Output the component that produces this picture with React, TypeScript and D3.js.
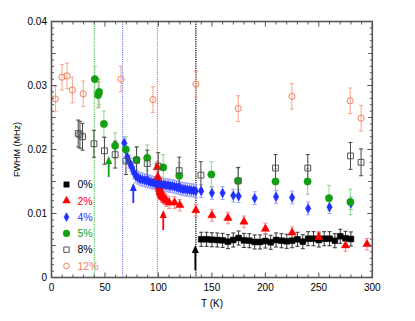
import React from 'react';
import * as d3 from 'd3';

// ---- data ----
const t0 = [140, 145, 150, 155, 160, 165, 170, 175, 180, 185, 190, 195, 200, 205, 210, 215, 220, 225, 230, 235, 240, 245, 250, 255, 260, 265, 270, 275, 280];
const w0 = [0.00597, 0.00597, 0.0059, 0.00586, 0.0058, 0.0056, 0.00586, 0.00617, 0.0058, 0.00575, 0.00555, 0.00555, 0.0057, 0.0055, 0.00586, 0.00575, 0.00566, 0.00575, 0.00597, 0.0056, 0.00606, 0.00606, 0.00586, 0.00606, 0.00606, 0.00575, 0.00644, 0.00612, 0.00602];

const t2 = [99, 99.4, 99.8, 100.2, 100.6, 101, 101.4, 101.8, 102.3, 102.8, 103.3, 104, 105, 106, 107.5, 110, 115, 120, 135, 150, 165, 180, 200, 225, 250, 275, 295];
const w2 = [0.0172, 0.0157, 0.015, 0.0146, 0.0142, 0.0138, 0.0135, 0.0133, 0.0131, 0.0129, 0.0127, 0.0126, 0.0125, 0.0123, 0.012, 0.0117, 0.0117, 0.0113, 0.0105, 0.0097, 0.0093, 0.0087, 0.0076, 0.007, 0.0063, 0.005, 0.0052];

const t4 = [68, 69.6, 71, 72.5, 74, 75.5, 77, 79, 81, 83, 85, 87, 89, 91, 93, 95, 97, 99, 101, 103, 105, 107, 109, 111, 113, 115, 117, 119, 121, 123, 125, 127, 129, 131, 133, 135, 140, 150, 160, 170, 175, 190, 210, 225, 240, 260, 280];
const w4 = [0.021, 0.0199, 0.0188, 0.0181, 0.0176, 0.0171, 0.0164, 0.0158, 0.0156, 0.0154, 0.0153, 0.0152, 0.0151, 0.015, 0.0149, 0.0148, 0.0147, 0.0146, 0.0146, 0.0145, 0.0145, 0.0144, 0.0144, 0.0143, 0.0143, 0.0142, 0.0141, 0.014, 0.0139, 0.0138, 0.0138, 0.0137, 0.0137, 0.0136, 0.0136, 0.0135, 0.0135, 0.0132, 0.0132, 0.0128, 0.0127, 0.0124, 0.0126, 0.0125, 0.0108, 0.011, 0.0116];

const t5 = [40.5, 43.5, 44.5, 49, 59.5, 69.5, 79.5, 89.5, 104.5, 119.5, 149.5, 174.5, 209.5, 239.5, 259.5, 279.5];
const w5 = [0.031, 0.0285, 0.029, 0.024, 0.0206, 0.02, 0.0184, 0.0187, 0.0172, 0.0159, 0.0161, 0.0151, 0.015, 0.015, 0.0124, 0.0118];

const t8 = [25, 26.6, 29, 39.7, 49.5, 59.5, 69.6, 79.6, 89.5, 99.8, 119.4, 139.7, 174.6, 209.5, 239.7, 279.6, 289.5];
const w8 = [0.0225, 0.0223, 0.022, 0.0209, 0.0198, 0.0192, 0.0182, 0.0183, 0.0178, 0.0174, 0.0167, 0.016, 0.0151, 0.0171, 0.0171, 0.019, 0.018];

const t12 = [3.6, 9.8, 14.5, 19.5, 29.7, 44.4, 65, 94.9, 135, 174.6, 224.8, 279.3, 289.5];
const w12 = [0.0279, 0.0313, 0.0315, 0.0293, 0.0287, 0.0286, 0.031, 0.0278, 0.0302, 0.0264, 0.0283, 0.0276, 0.0249];

const labels = ['0%', '2%', '4%', '5%', '8%', '12%'];
const errors = [0.0011, 0.0009, 0.001, 0.002, 0.0021, 0.002];

const transitions = [40, 66.5, 99, 135];
const arrowT = [53.5, 76.5, 104.5, 134.5];

const xTicks = [0, 50, 100, 150, 200, 250, 300];
const yTicks = [0, 0.01, 0.02, 0.03, 0.04];

// ---- layout ----
const W = 415, H = 321;
const x = d3.scaleLinear().domain([0, 300]).range([51.5, 372.3]);
const y = d3.scaleLinear().domain([0, 0.04]).range([277.5, 21.5]);
const font = '"Liberation Sans", Arial, sans-serif';

// draw order: 12%, 0%, 2%, 4%, 5%, 8%
const series = [
  { k: 5, t: t12, w: w12, shape: d3.symbolCircle, size: 30, fill: 'none', stroke: '#f4825c', bar: '#f7a385' },
  { k: 0, t: t0, w: w0, shape: d3.symbolSquare, size: 34, fill: '#000', stroke: '#000', bar: '#333' },
  { k: 1, t: t2, w: w2, shape: d3.symbolTriangle, size: 30, fill: '#ff0000', stroke: '#ff0000', bar: '#ff8080' },
  { k: 2, t: t4, w: w4, shape: d3.symbolDiamond, size: 26, fill: '#1f2fff', stroke: '#1f2fff', bar: '#9aa0ff' },
  { k: 3, t: t5, w: w5, shape: d3.symbolCircle, size: 42, fill: '#11a011', stroke: '#11a011', bar: '#8fd48f' },
  { k: 4, t: t8, w: w8, shape: d3.symbolSquare, size: 34, fill: 'none', stroke: '#555', bar: '#444' },
];
const legendOrder = [1, 2, 3, 4, 5, 0];
const legendColors = ['#000', '#ff0000', '#1f2fff', '#11a011', '#000', '#f4825c'];
const lineColors = ['#11b011', '#4455ff', '#ff3030', '#444'];
const arrowColors = ['#11a011', '#1f2fff', '#ff0000', '#000'];
const arrowY = [[177, 156], [203, 183], [230, 210], [270, 245]];

const Arrow = ({ px, y0, y1, color }) => (
  <g>
    <line x1={px} x2={px} y1={y0} y2={y1 + 6} stroke={color} strokeWidth={1.8} />
    <path d={`M${px - 3.5},${y1 + 8} L${px},${y1} L${px + 3.5},${y1 + 8} Z`} fill={color} />
  </g>
);

export default function App() {
  const [x0, x1] = x.range();
  const [yb, yt] = y.range();
  const minorX = d3.range(0, 301, 10);
  const minorY = d3.range(0, 41, 1).map(d => d / 1000);

  return (
    <svg width={W} height={H} style={{ position: 'absolute', left: 0, top: 0, background: '#fff' }}>
      {/* transition lines */}
      {transitions.map((t, i) => (
        <line key={i} x1={x(t)} x2={x(t)} y1={yt} y2={yb} stroke={lineColors[i]}
          strokeWidth={i === 3 ? 1.6 : 1} strokeDasharray={i === 3 ? '1.2,1' : '1,1.2'} />
      ))}

      {/* error bars */}
      {series.map((s, si) => (
        <g key={'e' + si} stroke={s.bar} strokeWidth={1}>
          {s.t.map((t, i) => {
            const e = errors[s.k];
            const cx = x(t), lo = y(s.w[i] - e), hi = y(s.w[i] + e);
            return (
              <g key={i}>
                <line x1={cx} x2={cx} y1={lo} y2={hi} />
                <line x1={cx - 2} x2={cx + 2} y1={lo} y2={lo} />
                <line x1={cx - 2} x2={cx + 2} y1={hi} y2={hi} />
              </g>
            );
          })}
        </g>
      ))}

      {/* markers */}
      {series.map((s, si) => {
        const p = d3.symbol(s.shape, s.size)();
        return (
          <g key={'m' + si}>
            {s.t.map((t, i) => (
              <path key={i} d={p} transform={`translate(${x(t)},${y(s.w[i])})`}
                fill={s.fill} stroke={s.stroke} strokeWidth={s.fill === 'none' ? 1 : 0.5} />
            ))}
          </g>
        );
      })}

      {/* arrows */}
      {arrowT.map((t, i) => (
        <Arrow key={i} px={x(t)} y0={arrowY[i][0]} y1={arrowY[i][1]} color={arrowColors[i]} />
      ))}

      {/* frame + ticks */}
      <rect x={x0} y={yt} width={x1 - x0} height={yb - yt} fill="none" stroke="#555" strokeWidth={1.6} />
      <g stroke="#555" strokeWidth={1}>
        {minorX.map(t => {
          const len = t % 50 === 0 ? 5 : 3;
          return (
            <g key={t}>
              <line x1={x(t)} x2={x(t)} y1={yb} y2={yb - len} />
              <line x1={x(t)} x2={x(t)} y1={yt} y2={yt + len} />
            </g>
          );
        })}
        {minorY.map((v, i) => {
          const len = i % 10 === 0 ? 5 : i % 5 === 0 ? 4 : 2.5;
          return (
            <g key={i}>
              <line x1={x0} x2={x0 + len} y1={y(v)} y2={y(v)} />
              <line x1={x1} x2={x1 - len} y1={y(v)} y2={y(v)} />
            </g>
          );
        })}
      </g>

      {/* tick labels */}
      <g fontFamily={font} fontSize={10} fill="#000">
        {xTicks.map(t => (
          <text key={t} x={x(t)} y={291} textAnchor="middle">{t}</text>
        ))}
        {yTicks.map(v => (
          <text key={v} x={47} y={y(v)} dy="0.35em" textAnchor="end">{v === 0 ? '0' : v.toFixed(2)}</text>
        ))}
        <text x={212} y={307} textAnchor="middle">T (K)</text>
        <text transform={`translate(20,${(yt + yb) / 2}) rotate(-90)`} textAnchor="middle" fontSize={9}>FWHM (MHz)</text>
      </g>

      {/* legend */}
      <g fontFamily={font} fontSize={10.5}>
        {legendOrder.map((si, k) => {
          const s = series[si];
          const ly = 184.5 + k * 16.3;
          return (
            <g key={k}>
              <path d={d3.symbol(s.shape, s.size * 0.85)()} transform={`translate(66.5,${ly})`}
                fill={s.fill} stroke={s.stroke} strokeWidth={s.fill === 'none' ? 1 : 0.5} />
              <text x={77.5} y={ly} dy="0.36em" fill={legendColors[k]}>{labels[k]}</text>
            </g>
          );
        })}
      </g>
    </svg>
  );
}
